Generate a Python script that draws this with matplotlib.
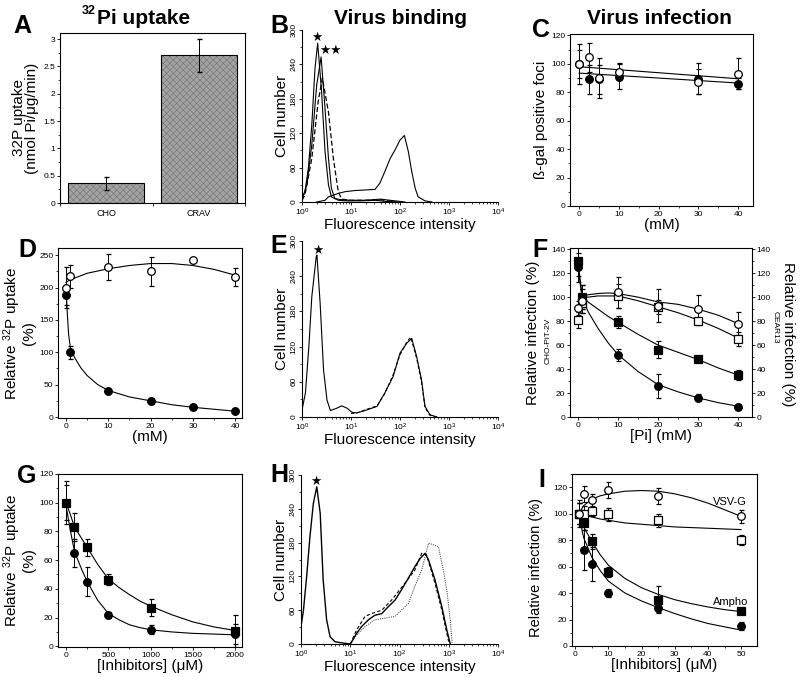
import matplotlib.pyplot as plt
import numpy as np
from matplotlib.ticker import MultipleLocator

plt.rcParams['font.family'] = ['Liberation Sans', 'DejaVu Sans']
plt.rcParams['mathtext.fontset'] = 'custom'
plt.rcParams['mathtext.rm'] = 'Liberation Sans'
plt.rcParams['mathtext.it'] = 'Liberation Sans:italic'
plt.rcParams['mathtext.bf'] = 'Liberation Sans:bold'
plt.rcParams['hatch.linewidth'] = 0.35

# ---- data ----
# A: 32Pi uptake bars
a_cells = ['CHO', 'CRAV']
a_uptake = [0.36, 2.70]
a_err = [0.12, 0.30]

# B: virus binding histograms (x given as log10 of fluorescence)
b_star_lx = [0, 0.06, 0.13, 0.2, 0.265, 0.32, 0.4, 0.47, 0.54, 0.6, 0.74, 0.9, 1.2, 1.5, 1.7, 2.0]
b_star_y = [5, 18, 59, 134, 233, 277, 192, 88, 30, 9, 3, 2, 2, 3, 1, 0]
b_dstar_lx = [0, 0.1, 0.2, 0.3, 0.39, 0.47, 0.54, 0.6, 0.67, 0.8, 1.0, 1.3, 1.6, 1.8, 2.1]
b_dstar_y = [4, 30, 100, 204, 253, 163, 76, 24, 6, 4, 3, 3, 5, 3, 0]
b_dash_lx = [0, 0.06, 0.2, 0.33, 0.415, 0.54, 0.64, 0.74, 0.81, 1.0, 1.3, 1.6, 1.9]
b_dash_y = [3, 12, 76, 175, 216, 157, 76, 18, 5, 3, 3, 4, 0]
b_pos_lx = [0.3, 0.47, 0.54, 0.74, 0.88, 1.08, 1.29, 1.49, 1.59, 1.69, 1.8, 1.9, 2.0, 2.09, 2.17, 2.24, 2.31, 2.37, 2.51, 2.65]
b_pos_y = [0, 3, 9, 15, 18, 20, 21, 22, 33, 53, 76, 91, 108, 116, 88, 53, 24, 9, 2, 0]

# C: beta-gal positive foci vs mM
c_x = [0, 2.5, 5, 10, 30, 40]
c_open = [100, 104.5, 90, 94.5, 87.5, 93]
c_open_err = [14, 10, 14, 6, 9, 11]
c_fill = [100, 89, 89, 91, 89.5, 86]
c_fill_err = [10, 10, 10, 9, 11, 4]
c_fit_x = [0, 40]
c_open_fit = [98, 89.5]
c_fill_fit = [93.5, 86.5]

# D: relative 32P uptake vs mM
d_x = [0, 1, 10, 20, 30, 40]
d_open = [200, 217, 232, 225, 242, 216]
d_open_err = [32, 17, 20, 22, 3, 14]
d_fill = [188, 100, 40, 25, 15, 9]
d_fill_err = [15, 10, 3, 5, 3, 2]
d_open_cx = [0, 1, 5, 10, 15, 20, 25, 30, 35, 40]
d_open_cy = [208, 212, 222, 229, 234, 237, 237, 234, 228, 219]
d_fill_cx = [0, 0.3, 0.6, 1, 2, 3.5, 5, 7.5, 10, 15, 20, 25, 30, 35, 40]
d_fill_cy = [200, 160, 128, 108, 92, 76, 64, 50, 41, 31, 25, 19, 15, 12, 9]

# E: virus binding histogram
e_lx = [0, 0.07, 0.14, 0.2, 0.29, 0.305, 0.37, 0.44, 0.51, 0.58, 0.71, 0.81, 0.92, 1.02, 1.12,
        1.32, 1.53, 1.69, 1.86, 2.0, 2.14, 2.24, 2.34, 2.44, 2.51, 2.61, 2.75]
e_y = [12, 41, 120, 205, 273, 276, 194, 80, 29, 11, 15, 19, 15, 8, 7,
       12, 18, 41, 69, 109, 126, 134, 103, 63, 18, 4, 0]
e_dash_lx = [1.0, 1.12, 1.32, 1.53, 1.69, 1.86, 2.0, 2.14, 2.22, 2.34, 2.44, 2.51, 2.61, 2.75]
e_dash_y = [6, 7, 13, 19, 40, 72, 106, 128, 136, 100, 60, 16, 3, 0]

# F: relative infection vs [Pi]
f_x = [0, 1, 10, 20, 30, 40]
f_fsq = [130, 100, 79, 56, 48, 35]
f_fsq_err = [12, 10, 5, 7, 2, 4]
f_fc = [125, 100, 52, 26, 16, 8.6]
f_fc_err = [12, 10, 5, 10, 3, 2]
f_oc = [91, 97, 104, 93, 90, 78]
f_oc_err = [6, 10, 13, 14, 12, 10]
f_osq = [81, 95, 101, 92, 80, 65]
f_osq_err = [7, 8, 10, 6, 3, 6]
f_cx = [0, 1, 2.5, 5, 7.5, 10, 15, 20, 25, 30, 35, 40]
f_fsq_c = [130, 101, 96, 90, 84, 79, 69, 60, 54, 48, 41, 35]
f_fc_c = [125, 100, 88, 74, 62, 52, 38, 27, 21, 16, 12, 9]
f_oc_c = [91, 100, 102, 103, 103.5, 103, 100, 96, 94, 90, 85, 78]
f_osq_c = [81, 100, 100, 101, 101, 101, 97, 92, 87, 81, 74, 66]

# G: relative 32P uptake vs inhibitors
g_x = [0, 100, 250, 500, 1000, 2000]
g_sq = [100, 83, 69, 46.5, 27, 10.5]
g_sq_err = [15, 10, 6, 4, 6, 11]
g_c = [100, 65, 45, 22, 11.5, 8.5]
g_c_err = [12, 10, 10, 2, 3, 7]
g_cx = [0, 50, 100, 175, 250, 375, 500, 625, 750, 875, 1000, 1250, 1500, 1750, 2000]
g_sq_c = [100, 92, 83, 76, 69, 57, 47, 41, 36, 31.5, 28, 22, 17, 13.5, 11]
g_c_c = [98, 81, 66, 55, 45, 32, 23, 18.5, 15, 13, 11.5, 10, 9, 8.5, 8]

# H: virus binding histograms
h_neg_lx = [0, 0.05, 0.115, 0.18, 0.25, 0.32, 0.39, 0.45, 0.52, 0.59, 0.69, 0.83, 1.0]
h_neg_y = [31, 60, 120, 189, 249, 279, 232, 114, 43, 13, 4, 2, 0]
h_sol_lx = [1.0, 1.03, 1.13, 1.23, 1.37, 1.5, 1.64, 1.77, 1.91, 2.04, 2.18, 2.31, 2.42, 2.52, 2.59, 2.72, 2.86, 2.96, 3.03]
h_sol_y = [0, 4, 19, 31, 43, 51, 54, 66, 78, 96, 117, 137, 152, 161, 149, 114, 66, 25, 0]
h_dash_lx = [1.0, 1.13, 1.3, 1.43, 1.64, 1.84, 2.11, 2.31, 2.45, 2.55, 2.72, 2.86, 2.99, 3.03]
h_dash_y = [0, 25, 49, 54, 60, 78, 108, 131, 161, 158, 108, 60, 7, 0]
h_dot_lx = [1.0, 1.1, 1.3, 1.5, 1.71, 1.91, 2.04, 2.18, 2.31, 2.45, 2.59, 2.69, 2.79, 2.89, 2.96, 3.03, 3.07]
h_dot_y = [0, 13, 31, 43, 46, 49, 60, 72, 102, 131, 179, 176, 173, 131, 96, 43, 0]

# I: relative infection vs inhibitors
i_x = [1, 2.5, 5, 10, 25, 50]
i_oc = [100, 115, 110, 118, 113.5, 98]
i_oc_err = [8, 6, 5, 6, 6, 5]
i_osq = [100, 100, 102, 99.5, 95, 80]
i_osq_err = [8, 6, 4, 5, 5, 4]
i_fsq = [100, 93, 79, 56, 35, 26.5]
i_fsq_err = [8, 5, 6, 4, 10, 2]
i_fc = [100, 72.5, 62, 40, 29, 15]
i_fc_err = [10, 15, 13, 3, 3, 3]
i_cx = [1, 2.5, 5, 7.5, 10, 15, 20, 25, 30, 35, 40, 45, 50]
i_oc_c = [100, 106, 111, 113.5, 115, 117, 117.5, 117, 115, 112, 108, 103, 98]
i_osq_c = [100, 99, 97.5, 96, 95, 93, 92, 91, 90, 89.5, 89, 88.5, 88]
i_fsq_c = [100, 90, 79, 69, 61, 51, 44, 39, 35, 32, 29.5, 27.5, 26]
i_fc_c = [100, 82, 67, 57, 49, 40, 34, 29, 24.5, 20.5, 17, 14.5, 12]

# ---- layout helpers (pixel positions in an 800x677 figure) ----
W, H = 800, 677
fig = plt.figure(figsize=(8, 6.77), dpi=100)


def add_ax(l, t, r, b):
    return fig.add_axes([l / W, 1 - b / H, (r - l) / W, (b - t) / H])


def style(ax, box=True):
    ax.tick_params(which='both', direction='out', labelsize=6, pad=0.8)
    ax.tick_params(which='major', length=2.5, width=0.6)
    ax.tick_params(which='minor', length=1.6, width=0.5)
    for s in ax.spines.values():
        s.set_linewidth(0.8)
    if not box:
        ax.spines['top'].set_visible(False)
        ax.spines['right'].set_visible(False)


def pts(ax, x, y, e, marker, filled, z=3):
    ax.errorbar(x, y, yerr=e, fmt=marker, ms=5.5, mfc='black' if filled else 'white',
                mec='black', mew=0.9, ecolor='black', elinewidth=0.7,
                capsize=1.8, capthick=0.7, zorder=z)


def flow_axes(ax):
    style(ax, box=False)
    ax.set_xscale('log')
    ax.set_xlim(1, 1e4)
    ax.set_ylim(0, 300)
    ax.set_yticks([0, 60, 120, 180, 240, 300])
    ax.yaxis.set_minor_locator(MultipleLocator(30))
    ax.tick_params(axis='y', labelrotation=90)
    for lab in ax.get_yticklabels():
        lab.set_va('center')
    ax.set_ylabel('Cell number', fontsize=11, labelpad=1)
    ax.set_xlabel('Fluorescence intensity', fontsize=11, labelpad=0)


def lx(v):
    return 10 ** np.array(v)


lbl = dict(fontsize=11)

# ---- A ----
axA = add_ax(60, 33, 245, 203)
style(axA)
xs = np.array([0.5, 1.5])
axA.bar(xs, a_uptake, width=0.82, color='#a2a2a2', edgecolor='#6e6e6e', hatch='xxxxx', lw=0, zorder=2)
axA.bar(xs, a_uptake, width=0.82, fill=False, edgecolor='black', lw=0.8, zorder=3)
axA.errorbar(xs, a_uptake, yerr=a_err, fmt='none', ecolor='black', elinewidth=0.7, capsize=1.8, zorder=4)
axA.set_xlim(0, 2)
axA.set_ylim(0, 3.11)
axA.set_xticks([0, 1, 2])
axA.set_xticklabels([])
axA.set_xticks(xs, minor=True)
axA.set_xticklabels(a_cells, minor=True)
axA.tick_params(axis='x', which='minor', length=0, pad=4, labelsize=6.5)
axA.set_yticks([0, 0.5, 1, 1.5, 2, 2.5, 3])
axA.set_yticklabels(['0', '0.5', '1', '1.5', '2', '2.5', '3'])
axA.yaxis.set_minor_locator(MultipleLocator(0.25))
axA.set_ylabel('32P uptake\n(nmol Pi/\u03bcg/min)', linespacing=0.95, labelpad=3, **lbl)

# ---- B ----
axB = add_ax(302, 30, 498, 202)
flow_axes(axB)
axB.plot(lx(b_star_lx), b_star_y, color='black', lw=0.8)
axB.plot(lx(b_dstar_lx), b_dstar_y, color='black', lw=0.8)
axB.plot(lx(b_dash_lx), b_dash_y, color='black', lw=0.9, ls=(0, (4, 2)))
axB.plot(lx(b_pos_lx), b_pos_y, color='black', lw=0.8)
axB.text(2.05, 287, '\u2605', ha='center', va='center', fontsize=9, family='DejaVu Sans')
axB.text(3.75, 265, '\u2605\u2605', ha='center', va='center', fontsize=9, family='DejaVu Sans')

# ---- C ----
axC = add_ax(570, 34, 753, 206)
style(axC)
axC.plot(c_fit_x, c_open_fit, color='black', lw=0.8)
axC.plot(c_fit_x, c_fill_fit, color='black', lw=0.8)
pts(axC, c_x, c_fill, c_fill_err, 'o', True)
pts(axC, c_x, c_open, c_open_err, 'o', False, z=4)
axC.set_xlim(-2.3, 43.7)
axC.set_ylim(0, 121)
axC.set_xticks([0, 10, 20, 30, 40])
axC.xaxis.set_minor_locator(MultipleLocator(5))
axC.set_yticks(range(0, 121, 20))
axC.yaxis.set_minor_locator(MultipleLocator(10))
axC.set_xlabel('(mM)', labelpad=0, **lbl)
axC.set_ylabel('\u00df-gal positive foci', labelpad=2, **lbl)

# ---- D ----
axD = add_ax(58, 248, 242, 418)
style(axD)
axD.plot(d_open_cx, d_open_cy, color='black', lw=0.8)
axD.plot(d_fill_cx, d_fill_cy, color='black', lw=0.8)
pts(axD, d_x, d_fill, d_fill_err, 'o', True)
pts(axD, d_x, d_open, d_open_err, 'o', False)
axD.set_xlim(-1.9, 41.6)
axD.set_ylim(-1.5, 261)
axD.set_xticks([0, 10, 20, 30, 40])
axD.xaxis.set_minor_locator(MultipleLocator(5))
axD.set_yticks(range(0, 251, 50))
axD.yaxis.set_minor_locator(MultipleLocator(25))
axD.set_xlabel('(mM)', labelpad=0, **lbl)
axD.set_ylabel('Relative $^{32}$P uptake\n(%)', linespacing=0.95, labelpad=2, **lbl)

# ---- E ----
axE = add_ax(302, 241, 498, 417)
flow_axes(axE)
axE.plot(lx(e_lx), e_y, color='black', lw=0.8)
axE.plot(lx(e_dash_lx), e_dash_y, color='black', lw=0.8, ls=(0, (3, 2)))
axE.text(2.12, 284, '\u2605', ha='center', va='center', fontsize=9, family='DejaVu Sans')

# ---- F ----
axF = add_ax(570, 248, 752, 417)
style(axF)
for cy in (f_fsq_c, f_fc_c, f_oc_c, f_osq_c):
    axF.plot(f_cx, cy, color='black', lw=0.8)
pts(axF, f_x, f_fsq, f_fsq_err, 's', True)
pts(axF, f_x, f_fc, f_fc_err, 'o', True)
pts(axF, f_x, f_osq, f_osq_err, 's', False)
pts(axF, f_x, f_oc, f_oc_err, 'o', False)
axF.set_xlim(-2, 43.5)
axF.set_ylim(0, 141)
axF.set_xticks([0, 10, 20, 30, 40])
axF.xaxis.set_minor_locator(MultipleLocator(5))
axF.set_yticks(range(0, 141, 20))
axF.yaxis.set_minor_locator(MultipleLocator(10))
axF.tick_params(axis='y', which='both', right=True, labelright=True)
axF.set_xlabel('[Pi] (mM)', labelpad=0, **lbl)
axF.text(-0.205, 0.5, 'Relative infection (%)', transform=axF.transAxes, rotation=90,
         ha='center', va='center', **lbl)
axF.text(-0.12, 0.45, 'CHO-PiT-2V', transform=axF.transAxes, rotation=90,
         ha='center', va='center', fontsize=6)
axF.text(1.2, 0.49, 'Relative infection (%)', transform=axF.transAxes, rotation=270,
         ha='center', va='center', **lbl)
axF.text(1.125, 0.53, 'CEAR13', transform=axF.transAxes, rotation=270,
         ha='center', va='center', fontsize=6)

# ---- G ----
axG = add_ax(58, 474, 242, 647)
style(axG)
axG.plot(g_cx, g_sq_c, color='black', lw=0.8)
axG.plot(g_cx, g_c_c, color='black', lw=0.8)
pts(axG, g_x, g_sq, g_sq_err, 's', True)
pts(axG, g_x, g_c, g_c_err, 'o', True)
axG.set_xlim(-95, 2083)
axG.set_ylim(-0.5, 120)
axG.set_xticks([0, 500, 1000, 1500, 2000])
axG.xaxis.set_minor_locator(MultipleLocator(250))
axG.set_yticks(range(0, 121, 20))
axG.yaxis.set_minor_locator(MultipleLocator(10))
axG.set_xlabel('[Inhibitors] (\u03bcM)', labelpad=0, **lbl)
axG.set_ylabel('Relative $^{32}$P uptake\n(%)', linespacing=0.95, labelpad=2, **lbl)

# ---- H ----
axH = add_ax(301, 475, 498, 644)
flow_axes(axH)
axH.plot(lx(h_neg_lx), h_neg_y, color='black', lw=1.0)
axH.plot(lx(h_dot_lx), h_dot_y, color='#555555', lw=0.8, ls=(0, (1, 1)))
axH.plot(lx(h_dash_lx), h_dash_y, color='black', lw=0.8, ls=(0, (3, 2)))
axH.plot(lx(h_sol_lx), h_sol_y, color='black', lw=1.0)
axH.text(2.02, 289, '\u2605', ha='center', va='center', fontsize=9, family='DejaVu Sans')

# ---- I ----
axI = add_ax(572, 474, 757, 646)
style(axI)
for cy in (i_oc_c, i_osq_c, i_fsq_c, i_fc_c):
    axI.plot(i_cx, cy, color='black', lw=0.8)
pts(axI, i_x, i_fsq, i_fsq_err, 's', True)
pts(axI, i_x, i_fc, i_fc_err, 'o', True)
pts(axI, i_x, i_osq, i_osq_err, 's', False)
pts(axI, i_x, i_oc, i_oc_err, 'o', False)
axI.set_xlim(-1, 54.8)
axI.set_ylim(0, 130)
axI.set_xticks([0, 10, 20, 30, 40, 50])
axI.xaxis.set_minor_locator(MultipleLocator(5))
axI.set_yticks(range(0, 121, 20))
axI.yaxis.set_minor_locator(MultipleLocator(10))
axI.set_xlabel('[Inhibitors] (\u03bcM)', labelpad=0, **lbl)
axI.set_ylabel('Relative infection (%)', fontsize=10.5)
axI.yaxis.set_label_coords(-0.155, 0.455)
axI.text(46.5, 109, 'VSV-G', ha='center', va='center', fontsize=8)
axI.text(47, 33, 'Ampho', ha='center', va='center', fontsize=8)

# ---- titles and panel letters ----
fig.text(82 / W, 1 - 14 / H, '32', ha='left', va='baseline', fontsize=9, fontweight='bold')
fig.text(97 / W, 1 - 24 / H, 'Pi uptake', ha='left', va='baseline', fontsize=15, fontweight='bold')
fig.text(401 / W, 1 - 24 / H, 'Virus binding', ha='center', va='baseline', fontsize=15, fontweight='bold')
fig.text(659 / W, 1 - 24 / H, 'Virus infection', ha='center', va='baseline', fontsize=15, fontweight='bold')

letters = [('A', 13, 33), ('B', 270, 33), ('C', 532, 37), ('D', 18, 257), ('E', 270, 253),
           ('F', 532, 257), ('G', 17, 483), ('H', 270, 482), ('I', 538, 487)]
for t, x, y in letters:
    fig.text(x / W, 1 - y / H, t, ha='left', va='baseline', fontsize=18, fontweight='heavy')

fig.savefig('out.png', dpi=100)
